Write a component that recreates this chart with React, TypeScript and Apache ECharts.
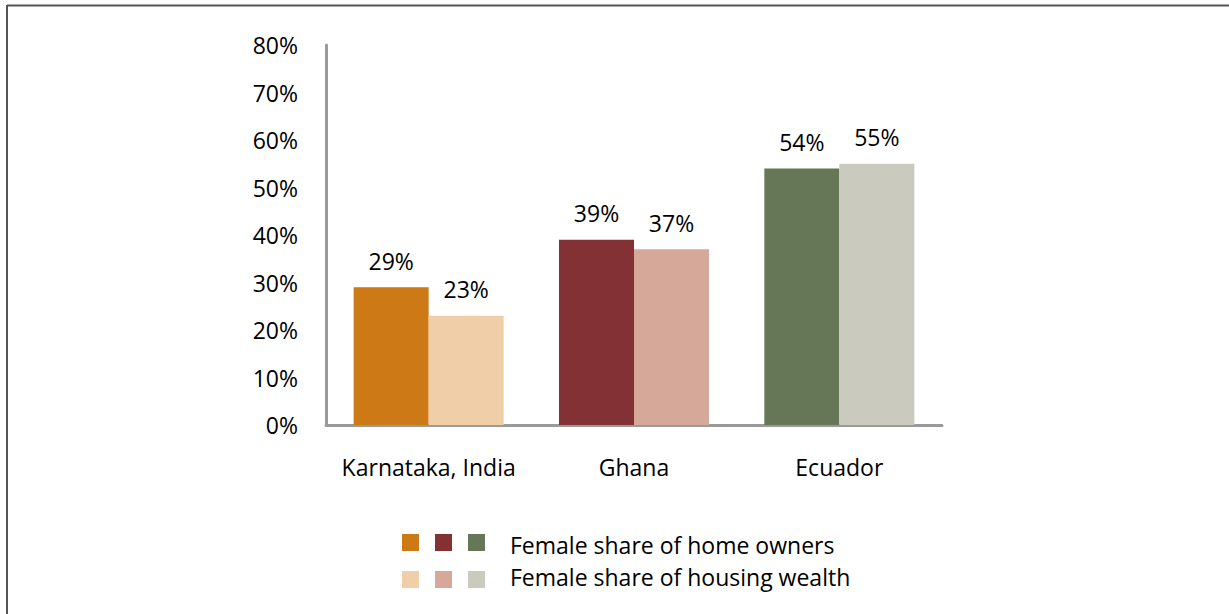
import React, { useEffect, useRef } from "react";
import * as echarts from "echarts";

const categories = ["Karnataka, India", "Ghana", "Ecuador"];
const homeOwners = [29, 39, 54];
const housingWealth = [23, 37, 55];
const ownerColors = ["#CD7916", "#843135", "#657756"];
const wealthColors = ["#F0CFA8", "#D6A899", "#CACABE"];
const legendLabels = ["Female share of home owners", "Female share of housing wealth"];
const yTicks = { min: 0, max: 80, interval: 10 };

const FONT = "'Open Sans', sans-serif";
const FS = 23;

export default function App() {
  const ref = useRef<HTMLDivElement>(null);
  useEffect(() => {
    document.body.style.margin = "0";
    const chart = echarts.init(ref.current!, null, { renderer: "svg" });
    const labelStyle = {
      show: true,
      position: "top" as const,
      distance: 15,
      color: "#000",
      fontSize: FS,
      fontFamily: FONT,
      formatter: "{c}%",
    };
    const squares: any[] = [];
    const rowsY = [534, 571];
    const textY = [545, 577];
    const colsX = [402, 435, 468];
    [ownerColors, wealthColors].forEach((cols, r) => {
      cols.forEach((c, i) => {
        squares.push({
          type: "rect",
          shape: { x: colsX[i], y: rowsY[r], width: 17, height: 17 },
          style: { fill: c },
        });
      });
      squares.push({
        type: "text",
        x: 510,
        y: textY[r],
        style: {
          text: legendLabels[r],
          fill: "#000",
          fontSize: FS,
          fontFamily: FONT,
          verticalAlign: "middle",
          align: "left",
        },
      });
    });
    chart.setOption({
      animation: false,
      backgroundColor: "#fff",
      grid: { left: 326, right: 287, top: 45, bottom: 189, containLabel: false },
      xAxis: {
        type: "category",
        data: categories,
        axisLine: { show: true, lineStyle: { color: "#9A9A9A", width: 3 } },
        axisTick: { show: false },
        axisLabel: { color: "#000", fontSize: FS, fontFamily: FONT, margin: 30, interval: 0 },
      },
      yAxis: {
        type: "value",
        min: yTicks.min,
        max: yTicks.max,
        interval: yTicks.interval,
        axisLine: { show: true, lineStyle: { color: "#9A9A9A", width: 3 } },
        axisTick: { show: false },
        splitLine: { show: false },
        axisLabel: { color: "#000", fontSize: FS, fontFamily: FONT, margin: 28, formatter: "{value}%" },
      },
      series: [
        {
          type: "bar",
          data: homeOwners.map((v, i) => ({ value: v, itemStyle: { color: ownerColors[i] } })),
          barWidth: 75,
          barGap: "0%",
          label: labelStyle,
        },
        {
          type: "bar",
          data: housingWealth.map((v, i) => ({ value: v, itemStyle: { color: wealthColors[i] } })),
          barWidth: 75,
          barGap: "0%",
          label: labelStyle,
        },
      ],
      graphic: [
        {
          type: "line",
          shape: { x1: 7, y1: 5.5, x2: 1229, y2: 5.5 },
          style: { stroke: "#555", lineWidth: 2 },
        },
        {
          type: "line",
          shape: { x1: 7, y1: 5, x2: 7, y2: 614 },
          style: { stroke: "#555", lineWidth: 2 },
        },
        ...squares,
      ],
    });
    return () => chart.dispose();
  }, []);
  return (
    <div
      ref={ref}
      style={{ position: "absolute", left: 0, top: 0, width: 1229, height: 614 }}
    />
  );
}
